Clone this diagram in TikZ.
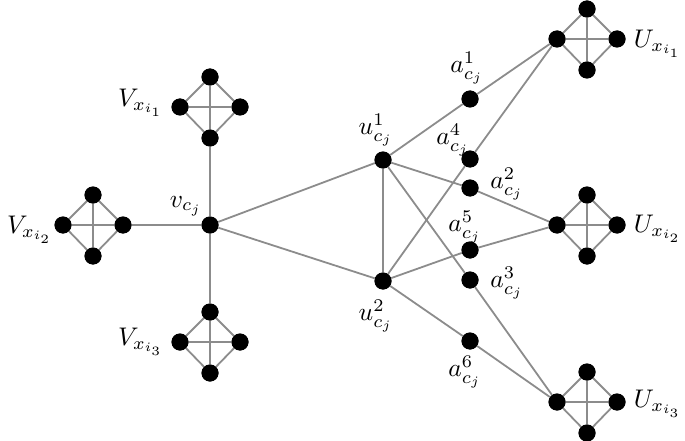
\documentclass[tikz,border=0pt]{standalone}
\usepackage{graphicx}
\newcommand{\lblmath}[1]{\scalebox{2.55}{$#1$}}
\begin{document}
\begin{tikzpicture}[x=1pt,y=-1pt,
  dot/.style={circle,fill=black,inner sep=0pt,minimum size=17pt},
  edge/.style={draw=gray!90,line width=1.8pt},
  lbl/.style={inner sep=0pt}]
\useasboundingbox (0,0) rectangle (685,441);
\tikzset{gadget/.pic={
  \node[dot] (-t) at (0,-30) {};
  \node[dot] (-l) at (-30,0) {};
  \node[dot] (-r) at (30,0) {};
  \node[dot] (-b) at (0,31) {};
  \draw[edge] (-t) -- (-l) -- (-b) -- (-r) -- (-t) -- (-b);
  \draw[edge] (-l) -- (-r);
}}
\pic (V1) at (210,107) {gadget};
\pic (V2) at (93,225) {gadget};
\pic (V3) at (210,342) {gadget};
\pic (U1) at (587,39) {gadget};
\pic (U2) at (587,225) {gadget};
\pic (U3) at (587,402) {gadget};
\node[dot] (v) at (210,225) {};
\node[dot] (u1) at (383,160) {};
\node[dot] (u2) at (383,281) {};
\node[dot] (a1) at (470,99) {};
\node[dot] (a4) at (470,159) {};
\node[dot] (a2) at (470,188) {};
\node[dot] (a5) at (470,250) {};
\node[dot] (a3) at (470,280) {};
\node[dot] (a6) at (470,341) {};
\draw[edge] (V1-b) -- (v) -- (V3-t);
\draw[edge] (V2-r) -- (v);
\draw[edge] (v) -- (u1) -- (u2) -- (v);
\draw[edge] (u1) -- (a1) -- (U1-l);
\draw[edge] (u1) -- (a2) -- (U2-l);
\draw[edge] (u1) -- (a3) -- (U3-l);
\draw[edge] (u2) -- (a4) -- (U1-l);
\draw[edge] (u2) -- (a5) -- (U2-l);
\draw[edge] (u2) -- (a6) -- (U3-l);
\foreach \n in {v,u1,u2,a1,a2,a3,a4,a5,a6,V1-t,V1-l,V1-r,V1-b,V2-t,V2-l,V2-r,V2-b,V3-t,V3-l,V3-r,V3-b,U1-t,U1-l,U1-r,U1-b,U2-t,U2-l,U2-r,U2-b,U3-t,U3-l,U3-r,U3-b}
  \node[dot] at (\n) {};
\node[lbl] (lV1) at (141,103) {\lblmath{V_{x_{i_1}}}};
\node[lbl] (lV2) at (30,230) {\lblmath{V_{x_{i_2}}}};
\node[lbl] (lV3) at (141,342) {\lblmath{V_{x_{i_3}}}};
\node[lbl] (lv) at (186,206) {\lblmath{v_{c_j}}};
\node[lbl] (lu1) at (376,130) {\lblmath{u^1_{c_j}}};
\node[lbl] (lu2) at (376,316) {\lblmath{u^2_{c_j}}};
\node[lbl] (la1) at (467,68) {\lblmath{a^1_{c_j}}};
\node[lbl] (la4) at (453,140) {\lblmath{a^4_{c_j}}};
\node[lbl] (la2) at (507,184) {\lblmath{a^2_{c_j}}};
\node[lbl] (la5) at (465,227) {\lblmath{a^5_{c_j}}};
\node[lbl] (la3) at (507,283) {\lblmath{a^3_{c_j}}};
\node[lbl] (la6) at (465,372) {\lblmath{a^6_{c_j}}};
\node[lbl] (lU1) at (658,44) {\lblmath{U_{x_{i_1}}}};
\node[lbl] (lU2) at (658,229) {\lblmath{U_{x_{i_2}}}};
\node[lbl] (lU3) at (658,404) {\lblmath{U_{x_{i_3}}}};
\end{tikzpicture}
\end{document}
